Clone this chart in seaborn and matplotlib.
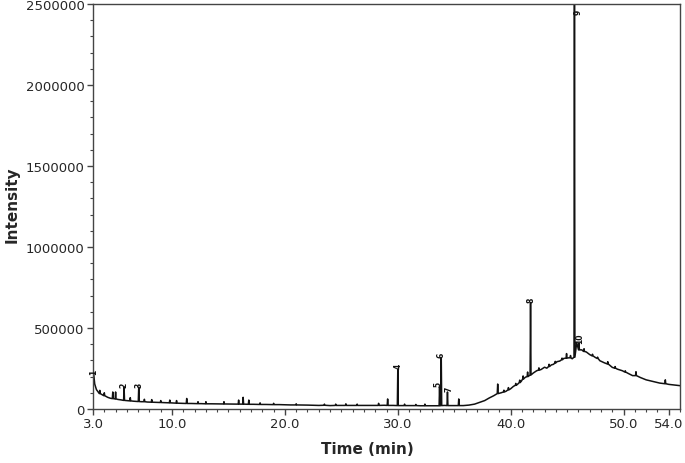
import matplotlib
matplotlib.use("Agg")
import matplotlib.pyplot as plt
import seaborn as sns
import pandas as pd
from matplotlib.ticker import MultipleLocator

sns.set_style("ticks")
plt.rcParams["font.family"] = ["DejaVu Sans"]

# Baseline of the chromatogram (retention time in min, intensity)
base_time = [3.0, 3.05, 3.15, 3.3, 3.45, 3.9, 4.3, 4.55, 5.2, 5.5, 6.1, 6.6, 7.3,
             7.8, 8.6, 9.4, 10.1, 10.8, 11.7, 12.6, 13.5, 14.3, 15.4, 17.2,
             18.3, 19.5, 20.5, 22.0, 23.0, 24.0, 25.0, 25.9, 27.0, 27.8, 28.8,
             29.6, 30.3, 31.0, 32.0, 33.0, 33.45, 34.15, 34.7, 35.1, 35.8,
             36.3, 36.8, 37.2, 37.7, 38.1, 38.5, 39.15, 39.6, 40.0, 40.25, 40.6,
             40.95, 41.3, 42.0, 42.3, 42.7, 43.0, 43.2, 43.6, 43.8, 44.1, 44.35,
             44.7, 45.15, 45.45, 45.85, 46.3, 46.7, 47.0, 47.5, 47.9, 48.3,
             49.0, 49.45, 49.9, 50.4, 50.8, 51.5, 52.0, 52.6, 53.2, 54.0, 54.5,
             55.0]
base_int = [205000, 222000, 154000, 120000, 105000, 84000, 72000, 66000, 59000,
            56000, 51000, 48000, 45000, 43000, 41000, 39000, 37000, 35000,
            34000, 33000, 32000, 31000, 30000, 29000, 28000, 27000, 25000,
            24000, 22000, 21000, 22000, 22000, 22000, 22000, 23000, 22000,
            21000, 21000, 20000, 20000, 20000, 22000, 21000, 21000, 21000,
            24000, 30000, 40000, 52000, 68000, 82000, 100000, 110000, 125000,
            140000, 152000, 172000, 196000, 222000, 236000, 244000, 258000,
            252000, 272000, 276000, 292000, 296000, 312000, 316000, 310000,
            410000, 365000, 352000, 336000, 318000, 298000, 285000, 257000,
            246000, 236000, 220000, 206000, 194000, 180000, 170000, 160000,
            152000, 148000, 144000]

# Individual spikes: time, base intensity, apex intensity
peak_time = [3.6, 4.0, 4.75, 5.0, 5.75, 6.3, 7.05, 7.55, 8.2, 9.0, 9.8, 10.4,
             11.3, 12.3, 13.0, 14.6, 15.9, 16.3, 16.8, 17.8, 19.0, 21.0, 23.5,
             24.5, 25.4, 26.4, 28.3, 29.1, 30.0, 30.6, 31.6, 32.4, 33.7, 33.85,
             34.4, 35.4, 38.85, 39.4, 39.8, 40.45, 40.8, 41.1, 41.5, 41.76,
             42.5, 43.4, 43.95, 44.55, 44.95, 45.3, 45.65, 46.05, 46.5, 47.25,
             47.7, 48.6, 49.25, 50.15, 51.1, 53.7]
peak_base = [95000, 82000, 64000, 62000, 53000, 50000, 46000, 45000, 42000,
             40000, 38000, 36000, 34000, 33000, 32000, 31000, 30000, 30000,
             29000, 28000, 27000, 25000, 23000, 22000, 22000, 22000, 22000,
             22000, 21000, 21000, 21000, 20000, 20000, 21000, 21000, 21000,
             95000, 105000, 118000, 146000, 163000, 185000, 200000, 210000,
             240000, 262000, 284000, 304000, 314000, 316000, 320000, 365000,
             355000, 328000, 312000, 278000, 252000, 228000, 206000, 156000]
peak_top = [115000, 100000, 105000, 105000, 135000, 70000, 135000, 60000,
            58000, 52000, 55000, 52000, 65000, 45000, 45000, 45000, 55000,
            72000, 55000, 38000, 35000, 32000, 30000, 30000, 32000, 30000,
            35000, 62000, 247000, 30000, 28000, 30000, 136000, 315000, 105000,
            62000, 154000, 116000, 132000, 158000, 178000, 204000, 228000,
            655000, 254000, 276000, 294000, 314000, 342000, 330000, 2620000,
            405000, 372000, 338000, 320000, 292000, 262000, 236000, 230000,
            180000]

# Numbered peak annotations
label_names = ["1", "2", "3", "4", "5", "6", "7", "8", "9", "10"]
label_time = [3.05, 5.75, 7.05, 30.0, 33.55, 33.85, 34.55, 41.76, 45.95, 46.1]
label_int = [215000, 138000, 138000, 250000, 140000, 318000, 108000, 660000,
             2440000, 410000]

# Build trace from baseline and spikes
rows = list(zip(base_time, base_int))
for t, b, h in zip(peak_time, peak_base, peak_top):
    rows += [(t - 0.04, b), (t, h), (t + 0.04, b)]
df = pd.DataFrame(rows, columns=["Time", "Intensity"]).sort_values("Time")

fig = plt.figure(figsize=(6.85, 4.64), dpi=100)
ax = fig.add_axes([0.1358, 0.1164, 0.8569, 0.8728])
sns.lineplot(data=df, x="Time", y="Intensity", estimator=None, sort=False,
             color="#111111", linewidth=1.1, ax=ax)

for name, t, y in zip(label_names, label_time, label_int):
    ax.text(t, y, name, fontsize=5.5, rotation=90, ha="center", va="bottom",
            color="#111111", fontweight="bold")

ax.set_xlim(3, 55)
ax.set_ylim(0, 2500000)
ax.set_xticks([3, 10, 20, 30, 40, 50, 54])
ax.set_xticklabels(["3.0", "10.0", "20.0", "30.0", "40.0", "50.0", "54.0"])
ax.xaxis.set_minor_locator(MultipleLocator(1))
ax.set_yticks([0, 500000, 1000000, 1500000, 2000000, 2500000])
ax.set_yticklabels(["0", "500000", "1000000", "1500000", "2000000", "2500000"])
ax.yaxis.set_minor_locator(MultipleLocator(100000))
ax.tick_params(axis="both", which="major", labelsize=9.5, length=4,
               width=1, color="#444444", pad=2)
ax.tick_params(axis="both", which="minor", length=2.5, width=0.8,
               color="#444444")
for s in ax.spines.values():
    s.set_color("#444444")
    s.set_linewidth(1.0)

ax.set_xlabel("Time (min)", fontsize=11, fontweight="bold")
ax.set_ylabel("Intensity", fontsize=11, fontweight="bold")
ax.xaxis.set_label_coords(0.468, -0.08)
ax.yaxis.set_label_coords(-0.125, 0.506)

fig.savefig("out.png", dpi=100)
